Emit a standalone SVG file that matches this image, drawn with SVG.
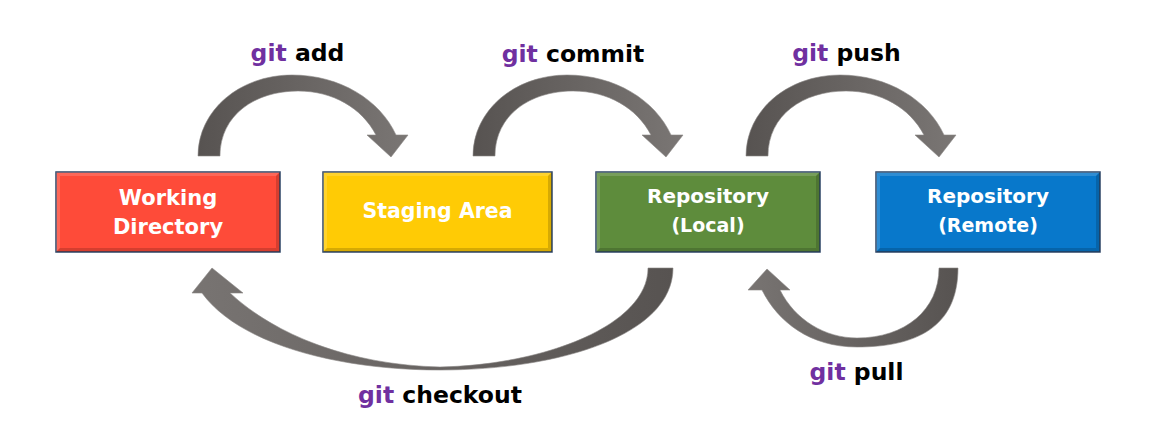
<svg xmlns="http://www.w3.org/2000/svg" xmlns:xlink="http://www.w3.org/1999/xlink" width="1155" height="442" viewBox="0 0 1155 442">
<style>
.box{stroke:#2D4466;stroke-width:1.5}
.hl{fill:#ffffff;opacity:0.16}
.sh{fill:#000000;opacity:0.16}
.nt{font-family:"DejaVu Sans","Liberation Sans",sans-serif;font-weight:bold;fill:#ffffff;text-anchor:middle}
.lb{font-family:"DejaVu Sans","Liberation Sans",sans-serif;font-weight:bold;font-size:23.5px;fill:#000000;text-anchor:middle}
.git{fill:#7030A0}
.arr{stroke:#8a8684;stroke-width:0.6}
</style>
<defs>
<linearGradient id="gR" x1="0" y1="0" x2="1" y2="0">
<stop offset="0" stop-color="#575351"/>
<stop offset="1" stop-color="#7a7674"/>
</linearGradient>
<linearGradient id="gL" x1="1" y1="0" x2="0" y2="0">
<stop offset="0" stop-color="#575351"/>
<stop offset="1" stop-color="#787472"/>
</linearGradient>
<g id="bevel224">
<polygon class="hl" points="0,0 224,0 220,4 4,4"/>
<polygon class="hl" points="0,0 4,4 4,76 0,80"/>
<polygon class="sh" points="0,80 4,76 220,76 224,80"/>
<polygon class="sh" points="224,0 224,80 220,76 220,4"/>
</g>
</defs>

<g id="connectors">
<path id="git-add" class="arr" fill="url(#gR)" d="M198,156 C198,110 240,75 292,75 C340,75 380,100 396,135 L408,135 L391,157 L367,135 L376,135 C362,108 333,91 298,91 C255,91 220,115 220,156 Z"/>
<path id="git-commit" class="arr" fill="url(#gR)" transform="translate(275,0)" d="M198,156 C198,110 240,75 292,75 C340,75 380,100 396,135 L408,135 L391,157 L367,135 L376,135 C362,108 333,91 298,91 C255,91 220,115 220,156 Z"/>
<path id="git-push" class="arr" fill="url(#gR)" transform="translate(548,0)" d="M198,156 C198,110 240,75 292,75 C340,75 380,100 396,135 L408,135 L391,157 L367,135 L376,135 C362,108 333,91 298,91 C255,91 220,115 220,156 Z"/>
<path id="git-checkout" class="arr" fill="url(#gL)" d="M673,268 C673,335 560,370 440,370 C340,370 240,345 202,293 L192,293 L212,268 L243,293 L230,293 C275,335 350,365 440,367 C545,365 648,325 648,268 Z"/>
<path id="git-pull" class="arr" fill="url(#gL)" d="M958,268 C958,328 915,347 857,347 C810,347 778,322 762,290 L748,290 L767,269 L790,290 L780,290 C795,320 825,338 857,338 C905,338 939,310 939,268 Z"/>
<text class="lb" x="297.5" y="61"><tspan class="git">git</tspan> add</text>
<text class="lb" x="573" y="62"><tspan class="git">git</tspan> commit</text>
<text class="lb" x="846.5" y="61"><tspan class="git">git</tspan> push</text>
<text class="lb" x="440" y="403"><tspan class="git">git</tspan> checkout</text>
<text class="lb" x="856.5" y="380"><tspan class="git">git</tspan> pull</text>
</g>

<g id="working-directory">
<rect class="box" x="56" y="172" width="224" height="80" fill="#FE4B39"/>
<use xlink:href="#bevel224" href="#bevel224" x="56" y="172"/>
<text class="nt" x="168" y="205" font-size="21">Working</text>
<text class="nt" x="168" y="234" font-size="21">Directory</text>
</g>

<g id="staging-area">
<rect class="box" x="323" y="172" width="229" height="80" fill="#FFCB05"/>
<polygon class="hl" points="323,172 552,172 548,176 327,176"/>
<polygon class="hl" points="323,172 327,176 327,248 323,252"/>
<polygon class="sh" points="323,252 327,248 548,248 552,252"/>
<polygon class="sh" points="552,172 552,252 548,248 548,176"/>
<text class="nt" x="437.5" y="218" font-size="20.5">Staging Area</text>
</g>

<g id="repository-local">
<rect class="box" x="596" y="172" width="224" height="80" fill="#5E8C3C"/>
<use xlink:href="#bevel224" href="#bevel224" x="596" y="172"/>
<text class="nt" x="708" y="203" font-size="20">Repository</text>
<text class="nt" x="708" y="232" font-size="19">(Local)</text>
</g>

<g id="repository-remote">
<rect class="box" x="876" y="172" width="224" height="80" fill="#0878CB"/>
<use xlink:href="#bevel224" href="#bevel224" x="876" y="172"/>
<text class="nt" x="988" y="203" font-size="20">Repository</text>
<text class="nt" x="988" y="232" font-size="19">(Remote)</text>
</g>
</svg>
